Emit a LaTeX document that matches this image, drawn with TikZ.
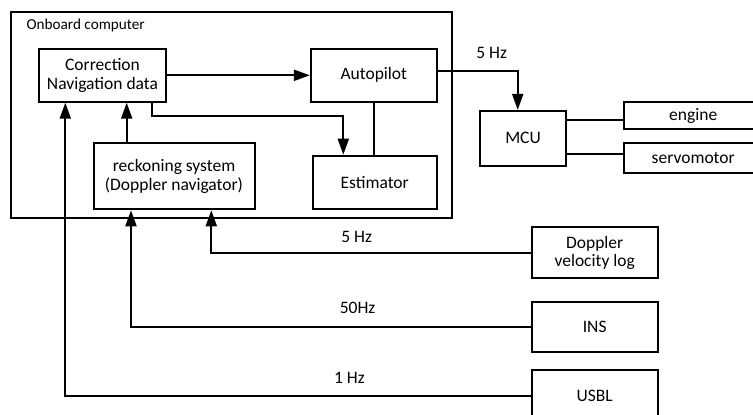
\documentclass[tikz,border=0pt]{standalone}
\usepackage{fontspec}
\setmainfont{Carlito}
\usetikzlibrary{arrows.meta}

\definecolor{ink}{HTML}{000000}

\begin{document}
\begin{tikzpicture}[x=0.5pt, y=-0.5pt, line width=1pt, draw=ink,
    font=\fontsize{8.75}{9.2}\selectfont, every node/.style={text=ink},
    >={Triangle[length=8pt,width=5.5pt]}]
  \useasboundingbox (0,0) rectangle (753,414);
  \tikzset{blk/.style={draw, align=center, inner sep=1pt}}

  % Onboard computer frame and its parts
  \node[draw, minimum width=220.5pt, minimum height=103pt] (obc) at (231.2,115.3) {};
  \node[anchor=west, font=\fontsize{7.6}{9}\selectfont] (obclbl) at (19,25) {Onboard computer};
  \node[blk, minimum width=63.2pt, minimum height=26.4pt] (corr) at (102.5,75.3) {Correction\\Navigation data};
  \node[blk, minimum width=62.9pt, minimum height=26.4pt] (auto) at (373.8,75.3) {Autopilot};
  \node[blk, minimum width=80.5pt, minimum height=33pt] (reck) at (174,176.3) {reckoning system\\(Doppler navigator)};
  \node[blk, minimum width=62pt, minimum height=26.8pt] (est) at (374.7,182.5) {Estimator};

  % Actuator side
  \node[blk, minimum width=43pt, minimum height=27.4pt] (mcu) at (523,138.3) {MCU};
  \node[blk, minimum width=68.9pt, minimum height=13.4pt] (engine) at (693.2,115.7) {engine};
  \node[blk, minimum width=68.9pt, minimum height=15pt] (servo) at (693.2,158.3) {servomotor};

  % Sensors
  \node[blk, minimum width=63pt, minimum height=25.5pt] (dvl) at (594.7,252.8) {Doppler\\velocity log};
  \node[blk, minimum width=63pt, minimum height=25.3pt] (ins) at (594.7,327) {INS};
  \node[blk, minimum width=63pt, minimum height=25.5pt] (usbl) at (594.7,395.5) {USBL};

  % turning points of the connectors
  \coordinate (ap) at (517.7,70.7);
  \coordinate (ce1) at (151.7,116);
  \coordinate (ce2) at (343.3,116);
  \coordinate (xr) at (126.7,120);
  \coordinate (xd) at (211.3,252.8);
  \coordinate (xi) at (131,327);
  \coordinate (xu) at (65.3,395.5);

  \draw[->] (corr.east) -- (auto.west);
  \draw[->] (auto.east |- ap) -- (ap) -- (ap |- mcu.north);
  \draw[->] (ce1 |- corr.south) -- (ce1) -- (ce2) -- (ce2 |- est.north);
  \draw (est.north -| auto.south) -- (auto.south);
  \draw[->] (xr |- reck.north) -- (xr |- corr.south);
  \draw (mcu.east |- 0,120.3) -- (engine.west |- 0,120.3);
  \draw (mcu.east |- 0,154.3) -- (servo.west |- 0,154.3);

  \draw[->] (dvl.west) -- (dvl.west -| xd) -- (xd |- reck.south);
  \draw[->] (ins.west) -- (ins.west -| xi) -- (xi |- reck.south);
  \draw[->] (usbl.west) -- (usbl.west -| xu) -- (xu |- corr.south);

  % rates
  \node (hzmcu) at (491.7,52.7) {5 Hz};
  \node (hzdvl) at (356.6,236.7) {5 Hz};
  \node (hzins) at (357.6,308.3) {50Hz};
  \node (hzusbl) at (349.4,378.3) {1 Hz};
\end{tikzpicture}
\end{document}
